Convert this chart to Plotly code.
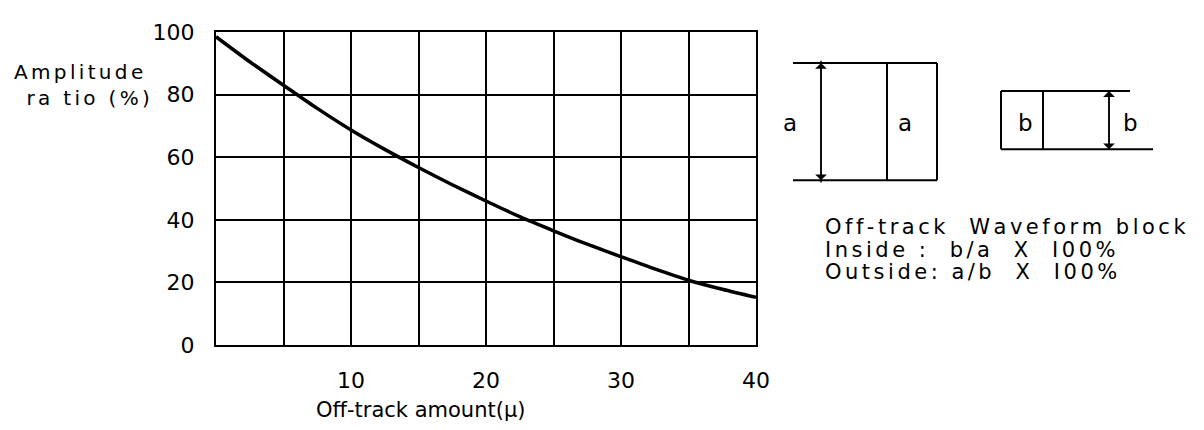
import plotly.graph_objects as go

# values
offtrack = [0, 2.5, 5, 7.5, 10, 12.5, 15, 17.5, 20, 22.5, 25, 27.5, 30, 32.5, 35, 37.5, 40]
amplitude = [98.5, 90.5, 83, 75.6, 68.7, 62.5, 56.7, 51.2, 46, 41, 36.5, 32.2, 28.2, 24.3, 20.7, 17.8, 15.2]

x_ticks = [0, 5, 10, 15, 20, 25, 30, 35, 40]
x_labels = ['', '', '10', '', '20', '', '30', '', '40']
y_ticks = [0, 20, 40, 60, 80, 100]
y_labels = ['0', '20', '40', '60', '80', '100']

FONT = "DejaVu Sans"
GAP = '\u2006'    # six-per-em space, for the letter-spaced look

# plot box in page pixels (page has an 8px body margin)
L, R, T, B = 216, 756, 22, 345
W, H = 1188, 414


def px(x):
    return (x - L) / (R - L)


def py(y):
    return (B - y) / (B - T)


def spaced(s, gap=GAP):
    return gap.join(s)


def note(x, y, text, size=20, xanchor='center', align='center'):
    fig.add_annotation(x=px(x), y=py(y), xref='paper', yref='paper',
                       xanchor=xanchor, yanchor='middle', text=text, align=align,
                       showarrow=False, font=dict(size=size))


fig = go.Figure(
    data=[
        go.Scatter(x=offtrack, y=amplitude, mode='lines',
                   line=dict(color='black', width=3.5, shape='spline', smoothing=0.8),
                   showlegend=False, hoverinfo='skip')
    ],
    layout=go.Layout(
        width=W, height=H,
        paper_bgcolor='white', plot_bgcolor='white',
        margin=dict(l=L - 8, r=W - (R - 8), t=T - 8, b=H - (B - 8)),
        font=dict(family=FONT, color='black', size=22),
        xaxis=dict(range=[0, 40], tickmode='array', tickvals=x_ticks, ticktext=x_labels,
                   showgrid=True, gridcolor='black', gridwidth=1.8,
                   showline=True, linecolor='black', linewidth=2, mirror=True,
                   ticks='', zeroline=False, ticklabelstandoff=15),
        yaxis=dict(range=[0, 100], tickmode='array', tickvals=y_ticks, ticktext=y_labels,
                   showgrid=True, gridcolor='black', gridwidth=1.8,
                   showline=True, linecolor='black', linewidth=2, mirror=True,
                   ticks='', zeroline=False, ticklabelstandoff=15),
    )
)

# axis titles
note(420, 412, 'Off-track amount(μ)', size=21)
note(152, 77, spaced('Amplitude') + GAP * 2 + '<br>' + spaced('ra tio (%)'),
     size=20, xanchor='right', align='right')

# waveform block sketches
line = dict(color='black', width=2)
segs = [
    (793, 54, 937, 54), (793, 175, 937, 175), (937, 54, 937, 175), (887, 54, 887, 175),
    (1001, 83, 1130, 83), (1001, 143, 1153, 143), (1001, 83, 1001, 143), (1043, 83, 1043, 143),
]
for x0, y0, x1, y1 in segs:
    fig.add_shape(type='line', xref='paper', yref='paper',
                  x0=px(x0), y0=py(y0), x1=px(x1), y1=py(y1), line=line)

for xa, ytop, ybot in [(821, 54, 175), (1109, 83, 143)]:
    span = ybot - ytop
    for ya, off in [(ytop, span), (ybot, -span)]:
        fig.add_annotation(x=px(xa), y=py(ya), ax=0, ay=off,
                           xref='paper', yref='paper',
                           text='', showarrow=True, arrowhead=1, arrowsize=1.3,
                           arrowwidth=1.5, arrowcolor='black')

for xl, yl, t in [(790, 116, 'a'), (905, 116, 'a'), (1025, 116, 'b'), (1130, 116, 'b')]:
    note(xl, yl, t, size=23)

notes = [
    (223, 'Off-track  Waveform block'),
    (247, 'Inside :  b/a  X  I00%'),
    (270, 'Outside: a/b  X  I00%'),
]
for yy, t in notes:
    note(823, yy, spaced(t), size=21, xanchor='left')

fig.write_html("out.html")
